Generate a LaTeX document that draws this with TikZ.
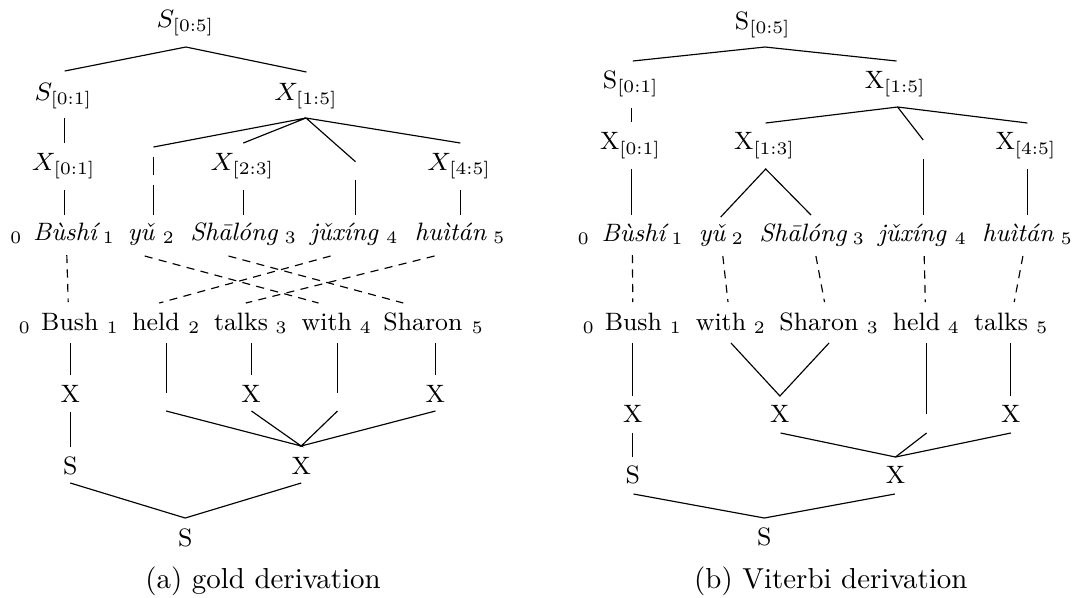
\RequirePackage{fix-cm}
\documentclass[tikz,border=0pt]{standalone}
\usepackage{fontspec}
\begin{document}
\begin{tikzpicture}[x=0.346pt,y=-0.346pt,
  lbl/.style={inner sep=0pt,anchor=base,font=\fontsize{8.7}{10.4}\selectfont},
  zh/.style={lbl,font=\fontsize{8.7}{10.4}\selectfont\itshape},
  caption/.style={inner sep=0pt,anchor=base},
  tree/.style={line width=0.4pt},
  align link/.style={line width=0.4pt,dash pattern=on 2.8pt off 2.2pt}]
\useasboundingbox (0,0) rectangle (1081,597);

% ---------------- (a) gold derivation ----------------
% source-side tree
\node[lbl] (aS05) at (185.5,27)  {$S_{[0:5]}$};
\node[lbl] (aS01) at (63.4,100)  {$S_{[0:1]}$};
\node[lbl] (aX15) at (306,100)   {$X_{[1:5]}$};
\node[lbl] (aX01) at (63.7,170)  {$X_{[0:1]}$};
\node[lbl] (aX23) at (242.5,170) {$X_{[2:3]}$};
\node[lbl] (aX45) at (459.2,170) {$X_{[4:5]}$};

% source sentence
\node[lbl] (af0) at (16.5,240)  {$_0$};
\node[zh]  (afw1) at (65,240)   {Bùshí};
\node[lbl] (af1) at (109,240)   {$_1$};
\node[zh]  (afw2) at (141,240)  {yǔ};
\node[lbl] (af2) at (169,240)   {$_2$};
\node[zh]  (afw3) at (234,240)  {Shālóng};
\node[lbl] (af3) at (291,240)   {$_3$};
\node[zh]  (afw4) at (344,240)  {jǔxíng};
\node[lbl] (af4) at (392.5,240) {$_4$};
\node[zh]  (afw5) at (450.5,240){huìtán};
\node[lbl] (af5) at (499.5,240) {$_5$};

% target sentence
\node[lbl] (ae0) at (25,330)    {$_0$};
\node[lbl] (aew1) at (69.8,330) {Bush};
\node[lbl] (ae1) at (113,330)   {$_1$};
\node[lbl] (aew2) at (156,330)  {held};
\node[lbl] (ae2) at (194.4,330) {$_2$};
\node[lbl] (aew3) at (241,330)  {talks};
\node[lbl] (ae3) at (281.8,330) {$_3$};
\node[lbl] (aew4) at (326.8,330){with};
\node[lbl] (ae4) at (366,330)   {$_4$};
\node[lbl] (aew5) at (423,330)  {Sharon};
\node[lbl] (ae5) at (478,330)   {$_5$};

% target-side tree
\node[lbl] (atX1) at (70.3,402.7)  {X};
\node[lbl] (atX3) at (251,402.7)   {X};
\node[lbl] (atX5) at (435.4,402.7) {X};
\node[lbl] (atS)  at (70.3,474)    {S};
\node[lbl] (atX)  at (301.2,474)   {X};
\node[lbl] (atR)  at (185.2,546)   {S};
\node[caption] (acap) at (263,588) {(a) gold derivation};

% junction points
\coordinate (aS05b) at (185.9,47);
\coordinate (aX15b) at (306,118);
\coordinate (atXt)  at (301.2,446);
\coordinate (atRt)  at (185.2,518);

\draw[tree] (64.7,71) -- (aS05b) -- (306.4,72);
\draw[tree] (64.5,118) -- (64.5,143);
\draw[tree] (153.5,147) -- (aX15b) -- (243.3,143);
\draw[tree] (355.5,161.7) -- (aX15b) -- (460.4,143);
\draw[tree] (153.5,157) -- (153.5,175);
\draw[tree] (153.5,185) -- (153.5,215);
\draw[tree] (64.5,190) -- (64.5,215);
\draw[tree] (243.3,190) -- (243.3,215);
\draw[tree] (355.5,180) -- (355.5,215);
\draw[tree] (460.4,190) -- (460.4,215);

% word alignment
\draw[align link] (66.8,255) -- (68.2,302);
\draw[align link] (144.7,256) -- (318.5,303);
\draw[align link] (228.5,256) -- (403.3,303);
\draw[align link] (330.6,256) -- (159.2,303);
\draw[align link] (434.5,256) -- (245.8,303);

\draw[tree] (70.3,343) -- (70.3,375);
\draw[tree] (166.2,343) -- (166.2,393);
\draw[tree] (251.5,343) -- (251.5,375);
\draw[tree] (337.5,343) -- (337.5,393);
\draw[tree] (435.4,343) -- (435.4,375);
\draw[tree] (166.2,411) -- (atXt) -- (251.5,411);
\draw[tree] (337.5,411) -- (atXt) -- (435.4,411);
\draw[tree] (70.3,412) -- (70.3,447);
\draw[tree] (70.3,483) -- (atRt) -- (301.2,483);

% ---------------- (b) Viterbi derivation ----------------
\node[lbl] (bS05) at (762.9,29)   {$\mathrm{S}_{[0:5]}$};
\node[lbl] (bS01) at (630.9,88.3) {$\mathrm{S}_{[0:1]}$};
\node[lbl] (bX15) at (895.3,88.3) {$\mathrm{X}_{[1:5]}$};
\node[lbl] (bX01) at (630.5,149.5){$\mathrm{X}_{[0:1]}$};
\node[lbl] (bX13) at (764.6,149.5){$\mathrm{X}_{[1:3]}$};
\node[lbl] (bX45) at (1026,149.5) {$\mathrm{X}_{[4:5]}$};

\node[lbl] (bf0) at (584,241)    {$_0$};
\node[zh]  (bfw1) at (633.5,241) {Bùshí};
\node[lbl] (bf1) at (677.6,241)  {$_1$};
\node[zh]  (bfw2) at (712,241)   {yǔ};
\node[lbl] (bf2) at (738,241)    {$_2$};
\node[zh]  (bfw3) at (803,241)   {Shālóng};
\node[lbl] (bf3) at (859,241)    {$_3$};
\node[zh]  (bfw4) at (912,241)   {jǔxíng};
\node[lbl] (bf4) at (961,241)    {$_4$};
\node[zh]  (bfw5) at (1018,241)  {huìtán};
\node[lbl] (bf5) at (1067,241)   {$_5$};

\node[lbl] (be0) at (589,330)     {$_0$};
\node[lbl] (bew1) at (633.4,330)  {Bush};
\node[lbl] (be1) at (676,330)     {$_1$};
\node[lbl] (bew2) at (721,330)    {with};
\node[lbl] (be2) at (760,330)     {$_2$};
\node[lbl] (bew3) at (819,330)    {Sharon};
\node[lbl] (be3) at (873,330)     {$_3$};
\node[lbl] (bew4) at (916.5,330)  {held};
\node[lbl] (be4) at (954,330)     {$_4$};
\node[lbl] (bew5) at (1001,330)   {talks};
\node[lbl] (be5) at (1042.5,330)  {$_5$};

\node[lbl] (btX1) at (632.8,422.7)  {X};
\node[lbl] (btX2) at (779.9,422.7)  {X};
\node[lbl] (btX5) at (1010.8,422.7) {X};
\node[lbl] (btS)  at (632.8,483.3)  {S};
\node[lbl] (btX)  at (895.5,483.3)  {X};
\node[lbl] (btR)  at (764.3,545.7)  {S};
\node[caption] (bcap) at (830.8,588) {(b) Viterbi derivation};

\coordinate (bS05b) at (765,47);
\coordinate (bX15b) at (897.6,107);
\coordinate (bX13b) at (765.7,169);
\coordinate (btX2t) at (779.9,396);
\coordinate (btXt)  at (895.5,457);
\coordinate (btRt)  at (764.3,518);

\draw[tree] (632.8,61) -- (bS05b) -- (896.5,61);
\draw[tree] (631.7,108) -- (631.7,122);
\draw[tree] (765.7,123) -- (bX15b) -- (1027.4,123);
\draw[tree] (bX15b) -- (923.2,140);
\draw[tree] (631.7,169) -- (631.7,215);
\draw[tree] (720.7,217) -- (bX13b) -- (811,215);
\draw[tree] (923.2,159) -- (923.2,215);
\draw[tree] (1027.4,169) -- (1027.4,215);

\draw[align link] (632.4,255) -- (632.8,302);
\draw[align link] (722.8,256) -- (728,302);
\draw[align link] (815.9,256) -- (824.5,302);
\draw[align link] (924.2,256) -- (925.3,302);
\draw[align link] (1022.9,256) -- (1014.2,302);

\draw[tree] (632.8,343) -- (632.8,396);
\draw[tree] (731,343) -- (btX2t) -- (829,343);
\draw[tree] (926.6,343) -- (926.6,414);
\draw[tree] (1010.8,343) -- (1010.8,396);
\draw[tree] (632.8,433) -- (632.8,457);
\draw[tree] (780.6,433) -- (btXt) -- (1010.8,433);
\draw[tree] (926.6,433) -- (btXt);
\draw[tree] (633.5,494) -- (btRt) -- (894.8,494);
\end{tikzpicture}
\end{document}
